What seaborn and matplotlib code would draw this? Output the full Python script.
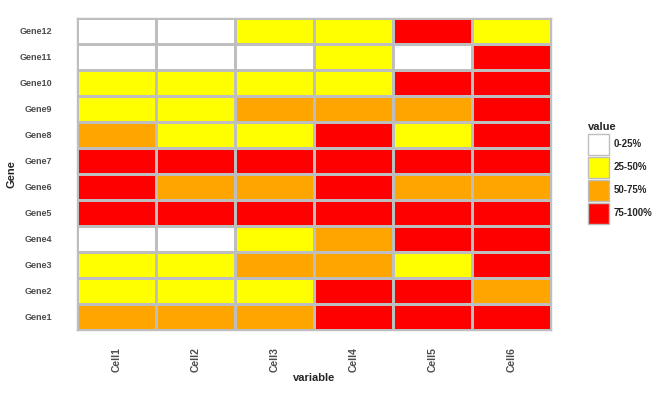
import numpy as np
import pandas as pd
import matplotlib
matplotlib.use("Agg")
import matplotlib.pyplot as plt
from matplotlib.colors import ListedColormap
from matplotlib.patches import Patch
import seaborn as sns

sns.set_style("white")
plt.rcParams["font.family"] = ["Liberation Sans", "DejaVu Sans"]

# data: one category per cell, rows listed top (Gene12) to bottom (Gene1)
genes = ["Gene12", "Gene11", "Gene10", "Gene9", "Gene8", "Gene7",
         "Gene6", "Gene5", "Gene4", "Gene3", "Gene2", "Gene1"]
cells = ["Cell1", "Cell2", "Cell3", "Cell4", "Cell5", "Cell6"]
levels = ["0-25%", "25-50%", "50-75%", "75-100%"]
level_colors = ["#FFFFFF", "#FFFF00", "#FFA500", "#FF0000"]

cell1 = ["0-25%", "0-25%", "25-50%", "25-50%", "50-75%", "75-100%",
         "75-100%", "75-100%", "0-25%", "25-50%", "25-50%", "50-75%"]
cell2 = ["0-25%", "0-25%", "25-50%", "25-50%", "25-50%", "75-100%",
         "50-75%", "75-100%", "0-25%", "25-50%", "25-50%", "50-75%"]
cell3 = ["25-50%", "0-25%", "25-50%", "50-75%", "25-50%", "75-100%",
         "50-75%", "75-100%", "25-50%", "50-75%", "25-50%", "50-75%"]
cell4 = ["25-50%", "25-50%", "25-50%", "50-75%", "75-100%", "75-100%",
         "75-100%", "75-100%", "50-75%", "50-75%", "75-100%", "75-100%"]
cell5 = ["75-100%", "0-25%", "75-100%", "50-75%", "25-50%", "75-100%",
         "50-75%", "75-100%", "75-100%", "25-50%", "75-100%", "75-100%"]
cell6 = ["25-50%", "75-100%", "75-100%", "75-100%", "75-100%", "75-100%",
         "50-75%", "75-100%", "75-100%", "75-100%", "50-75%", "75-100%"]

df = pd.DataFrame({"Cell1": cell1, "Cell2": cell2, "Cell3": cell3,
                   "Cell4": cell4, "Cell5": cell5, "Cell6": cell6}, index=genes)
codes = df.apply(lambda col: col.map({lv: i for i, lv in enumerate(levels)}))

fig = plt.figure(figsize=(6.65, 3.93), dpi=100)
ax = fig.add_axes([0.1158, 0.160, 0.7128, 0.7942])

sns.heatmap(codes, ax=ax, cmap=ListedColormap(level_colors), vmin=-0.5, vmax=3.5,
            cbar=False, linewidths=1.0, linecolor="#BEBEBE")

ax.tick_params(axis="both", length=0)
ax.tick_params(axis="x", pad=12)
ax.tick_params(axis="y", pad=18)
ax.set_xticklabels(cells, rotation=90)
ax.set_yticklabels(genes, rotation=0)
plt.setp(ax.get_xticklabels(), fontsize=7.5, fontweight="bold", color="#4D4D4D")
plt.setp(ax.get_yticklabels(), fontsize=6.5, fontweight="bold", color="#4D4D4D")
ax.set_xlabel("variable", fontsize=8, fontweight="bold", labelpad=1)
ax.set_ylabel("Gene", fontsize=8, fontweight="bold", labelpad=2)

# outer border of tiles
for s in ax.spines.values():
    s.set_visible(True)
    s.set_color("#BEBEBE")
    s.set_linewidth(1.0)

handles = [Patch(facecolor=c, edgecolor="#BEBEBE", linewidth=1.0, label=lv)
           for lv, c in zip(levels, level_colors)]
leg = fig.legend(handles=handles, title="value", loc="upper left",
                 bbox_to_anchor=(0.884, 0.69), frameon=False,
                 prop={"size": 7, "weight": "bold"},
                 handlelength=2.15, handleheight=2.95, handletextpad=0.5,
                 labelspacing=0.2, borderaxespad=0, borderpad=0)
leg.get_title().set_fontsize(8)
leg.get_title().set_fontweight("bold")
leg._legend_box.align = "left"

fig.savefig("out.png", dpi=100)
